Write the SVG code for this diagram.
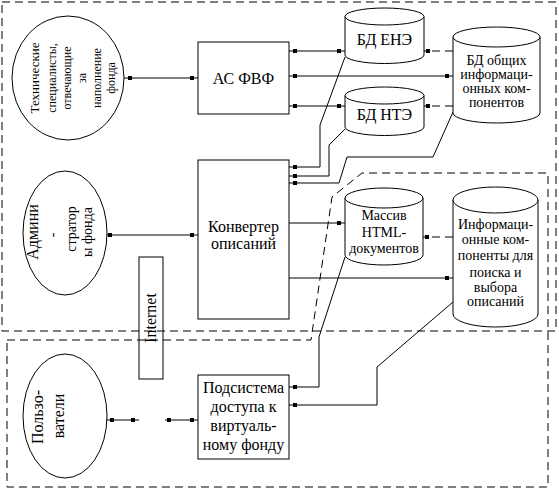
<svg xmlns="http://www.w3.org/2000/svg" width="559" height="488" viewBox="0 0 559 488">
<style>
  text { font-family: "Liberation Serif", "Times New Roman", serif; fill: #000; }
  .n { fill: #fff; stroke: #000; stroke-width: 1; }
  .c { fill: none; stroke: #000; stroke-width: 1; }
  .d { fill: none; stroke: #000; stroke-width: 1; stroke-dasharray: 8 5; }
  .t16 { font-size: 16px; text-anchor: middle; }
  .t14 { font-size: 14px; text-anchor: middle; }
  .t13 { font-size: 13px; text-anchor: middle; }
  .t12 { font-size: 12px; text-anchor: middle; }
</style>
<defs>
  <marker id="sq" markerUnits="userSpaceOnUse" markerWidth="20" markerHeight="10" refX="10" refY="5" orient="auto-start-reverse">
    <rect x="2" y="3" width="4" height="4" fill="#000"/>
  </marker>
  <marker id="sq4" markerUnits="userSpaceOnUse" markerWidth="20" markerHeight="10" refX="10" refY="5" orient="auto-start-reverse">
    <rect x="4" y="3" width="4" height="4" fill="#000"/>
  </marker>
</defs>
<rect width="559" height="488" fill="#fff"/>

<g id="regions">
  <rect class="d" x="2" y="2" width="554" height="329"/>
  <path class="d" d="M7 340 L311 340 L332 197 L362 173 L548 173 L548 487 L7 487 Z"/>
</g>

<g id="connectors">
  <line class="c" x1="124" y1="78" x2="198" y2="78" marker-start="url(#sq)" marker-end="url(#sq)"/>
  <line class="c" x1="289" y1="51" x2="345" y2="51" marker-start="url(#sq)" marker-end="url(#sq)"/>
  <line class="c" x1="289" y1="76" x2="453" y2="76" marker-start="url(#sq)" marker-end="url(#sq)"/>
  <line class="c" x1="289" y1="106" x2="345" y2="106" marker-start="url(#sq)" marker-end="url(#sq)"/>
  <line class="d" x1="453" y1="51" x2="424" y2="51" marker-end="url(#sq4)"/>
  <line class="d" x1="453" y1="106" x2="424" y2="106" marker-end="url(#sq4)"/>
  <polyline class="c" points="345,57 320,125 320,167 289,167" marker-end="url(#sq)"/>
  <polyline class="c" points="345,129 329,145 329,176 289,176" marker-end="url(#sq)"/>
  <polyline class="c" points="453,112 433,157 347,157 339,183 289,183" marker-end="url(#sq)"/>
  <line class="c" x1="106" y1="235" x2="198" y2="235" marker-start="url(#sq4)" marker-end="url(#sq)"/>
  <line class="c" x1="289" y1="223" x2="345" y2="223" marker-end="url(#sq)"/>
  <line class="d" x1="453" y1="237" x2="423" y2="237" marker-end="url(#sq4)"/>
  <line class="c" x1="289" y1="278" x2="453" y2="278" marker-end="url(#sq)"/>
  <polyline class="c" points="289,387 319,387 319,337 345,257" marker-start="url(#sq)"/>
  <polyline class="c" points="289,405 377,405 377,367 453,302" marker-start="url(#sq)"/>
  <line class="c" x1="106" y1="420" x2="139" y2="420" marker-start="url(#sq)" marker-end="url(#sq)"/>
  <line class="c" x1="165" y1="420" x2="198" y2="420" marker-start="url(#sq4)" marker-end="url(#sq)"/>
</g>

<g id="tech">
  <ellipse class="n" cx="68" cy="78" rx="56" ry="62"/>
  <text class="t13" transform="translate(39,78) rotate(-90)">Технические</text>
  <text class="t12" transform="translate(56,78) rotate(-90)">специалисты,</text>
  <text class="t12" transform="translate(71,78) rotate(-90)">отвечающие</text>
  <text class="t12" transform="translate(86,78) rotate(-90)">за</text>
  <text class="t12" transform="translate(101,78) rotate(-90)">наполнение</text>
  <text class="t12" transform="translate(115,78) rotate(-90)">фонда</text>
</g>

<g id="asfvf">
  <rect class="n" x="198" y="42" width="91" height="72"/>
  <text class="t16" x="243.5" y="84">АС ФВФ</text>
</g>

<g id="bd-ene">
  <path class="n" d="M345 16.5 V55 A39.5 8.5 0 0 0 424 55 V16.5"/>
  <ellipse class="n" cx="384.5" cy="16.5" rx="39.5" ry="8.5"/>
  <text class="t16" x="384.5" y="45">БД ЕНЭ</text>
</g>

<g id="bd-nte">
  <path class="n" d="M345 95.5 V127 A39.5 8.5 0 0 0 424 127 V95.5"/>
  <ellipse class="n" cx="384.5" cy="95.5" rx="39.5" ry="8.5"/>
  <text class="t16" x="384.5" y="120">БД НТЭ</text>
</g>

<g id="bd-common">
  <path class="n" d="M453 37 V113 A43.5 10 0 0 0 540 113 V37"/>
  <ellipse class="n" cx="496.5" cy="37" rx="43.5" ry="10"/>
  <text class="t14" x="496.5" y="65">БД общих</text>
  <text class="t14" x="496.5" y="79">информаци-</text>
  <text class="t14" x="496.5" y="93">онных ком-</text>
  <text class="t14" x="496.5" y="107">понентов</text>
</g>

<g id="admin">
  <ellipse class="n" cx="65" cy="233" rx="42" ry="62"/>
  <text class="t16" transform="translate(38,232) rotate(-90)">Админи</text>
  <text class="t14" transform="translate(57,235) rotate(-90)">-</text>
  <text class="t14" transform="translate(76,229) rotate(-90)">стратор</text>
  <text class="t14" transform="translate(92,232) rotate(-90)">ы фонда</text>
</g>

<g id="converter">
  <rect class="n" x="198" y="160" width="91" height="159"/>
  <text class="t16" x="243.5" y="232">Конвертер</text>
  <text class="t16" x="243.5" y="249">описаний</text>
</g>

<g id="html">
  <path class="n" d="M345 198 V255 A39 10 0 0 0 423 255 V198"/>
  <ellipse class="n" cx="384" cy="198" rx="39" ry="10"/>
  <text class="t14" x="384" y="220">Массив</text>
  <text class="t14" x="384" y="237">HTML-</text>
  <text class="t14" x="384" y="253">документов</text>
</g>

<g id="info">
  <path class="n" d="M453 200 V314 A42.5 13 0 0 0 538 314 V200"/>
  <ellipse class="n" cx="495.5" cy="200" rx="42.5" ry="13"/>
  <text class="t14" x="495.5" y="229">Информаци-</text>
  <text class="t14" x="495.5" y="244">онные ком-</text>
  <text class="t14" x="495.5" y="260">поненты для</text>
  <text class="t14" x="495.5" y="277">поиска и</text>
  <text class="t14" x="495.5" y="292">выбора</text>
  <text class="t14" x="495.5" y="306">описаний</text>
</g>

<g id="internet">
  <rect x="139" y="257" width="24" height="122" fill="none" stroke="#000"/>
  <text class="t16" transform="translate(156,318) rotate(-90)">Internet</text>
</g>

<g id="users">
  <ellipse class="n" cx="65" cy="416" rx="42" ry="62"/>
  <text class="t16" transform="translate(43,417) rotate(-90)">Пользо-</text>
  <text class="t16" transform="translate(64,416) rotate(-90)">ватели</text>
</g>

<g id="access">
  <rect class="n" x="198" y="375" width="91" height="84"/>
  <text class="t16" x="243.5" y="393">Подсистема</text>
  <text class="t16" x="243.5" y="412">доступа к</text>
  <text class="t16" x="243.5" y="431">виртуаль-</text>
  <text class="t16" x="243.5" y="450">ному фонду</text>
</g>
</svg>
